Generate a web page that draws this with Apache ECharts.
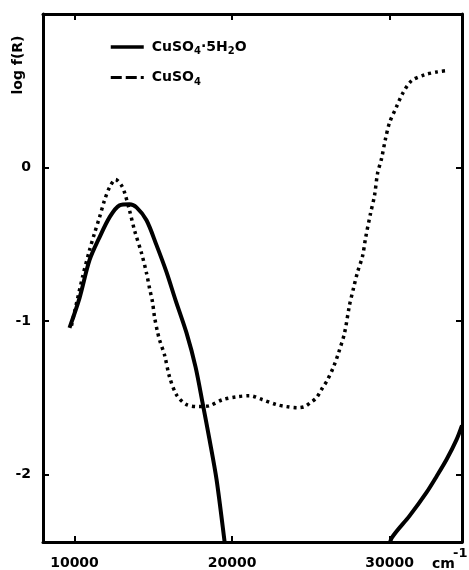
<!DOCTYPE html>
<html><head><meta charset="utf-8">
<script src="https://cdn.jsdelivr.net/npm/echarts@6/dist/echarts.min.js"></script>
<style>html,body{margin:0;padding:0;background:#fff}#c{width:469px;height:570px}</style>
</head><body><div id="c"></div><script>
// ---- data (wavenumber cm^-1, log f(R)) ----
const xTicks = [10000, 20000, 30000];
const yTicks = [0, -1, -2];

const hydrateName = 'CuSO₄·5H₂O';
const anhydName = 'CuSO₄';

// CuSO4·5H2O, low-energy band
const hydrateX1 = [9683, 10317, 10952, 11587, 12222, 12857, 13492, 13937, 14571, 15206, 15841, 16413, 17111, 17683, 18127, 18571, 19016, 19524, 19650];
const hydrateY1 = [-1.045, -0.851, -0.604, -0.455, -0.325, -0.247, -0.240, -0.260, -0.344, -0.506, -0.682, -0.864, -1.078, -1.299, -1.532, -1.773, -2.032, -2.435, -2.55];
// CuSO4·5H2O, UV edge
const hydrateX2 = [29950, 30127, 31270, 32350, 32984, 33619, 34254, 34600];
const hydrateY2 = [-2.50, -2.416, -2.270, -2.117, -2.013, -1.903, -1.773, -1.680];

// CuSO4 (anhydrous)
const anhydX = [9810, 10508, 10952, 11270, 11587, 11905, 12222, 12603, 12984, 13175, 13492, 13810, 14254, 14571, 14762, 14952, 15079, 15270, 15397, 15714, 16032, 16476, 17111, 17937, 18571, 19397, 20286, 21111, 21937, 22825, 23460, 24159, 24603, 24984, 25365, 25746, 26063, 26444, 26762, 27143, 27460, 27714, 27968, 28286, 28476, 28794, 29048, 29238, 29492, 29746, 30000, 30444, 30825, 31397, 32222, 33048, 33556];
const anhydY = [-1.03, -0.714, -0.539, -0.429, -0.325, -0.214, -0.130, -0.078, -0.117, -0.162, -0.279, -0.409, -0.558, -0.688, -0.786, -0.877, -0.974, -1.071, -1.123, -1.221, -1.364, -1.481, -1.545, -1.558, -1.552, -1.513, -1.494, -1.487, -1.513, -1.545, -1.558, -1.565, -1.558, -1.532, -1.500, -1.435, -1.383, -1.299, -1.208, -1.078, -0.896, -0.786, -0.682, -0.578, -0.461, -0.299, -0.182, -0.039, 0.058, 0.188, 0.292, 0.396, 0.481, 0.565, 0.604, 0.623, 0.630];

const X_MIN = 8000, X_MAX = 34600, Y_MIN = -2.44, Y_MAX = 1.0;

const zip = (xs, ys) => xs.map((x, i) => [x, ys[i]]);
const FONT = 'DejaVu Sans';

const chart = echarts.init(document.getElementById('c'), null, {renderer: 'canvas'});

function axisCommon(showLabel, isX) {
  return {
    type: 'value',
    min: isX ? X_MIN : Y_MIN,
    max: isX ? X_MAX : Y_MAX,
    axisLine: {show: true, onZero: false, lineStyle: {color: '#000', width: 3}},
    axisTick: {show: true, inside: true, length: 6, lineStyle: {color: '#000', width: 2}, customValues: isX ? xTicks : yTicks},
    axisLabel: {show: showLabel, customValues: isX ? xTicks : yTicks, formatter: v => String(v),
      color: '#000', fontFamily: FONT, fontWeight: 'bold', fontSize: 14, margin: isX ? 14 : 12},
    splitLine: {show: false}
  };
}

const sub = {fontSize: 10, fontWeight: 'bold', fontFamily: FONT, color: '#000', padding: [9, 0, 0, 0]};
const main = {fontSize: 14, fontWeight: 'bold', fontFamily: FONT, color: '#000'};

chart.setOption({
  animation: false,
  backgroundColor: '#fff',
  grid: {left: 43, right: 7, top: 14, bottom: 28},
  xAxis: [
    Object.assign(axisCommon(true, true), {position: 'bottom'}),
    Object.assign(axisCommon(false, true), {position: 'top'})
  ],
  yAxis: [
    Object.assign(axisCommon(true, false), {position: 'left'}),
    Object.assign(axisCommon(false, false), {position: 'right'})
  ],
  legend: {
    orient: 'vertical', left: 104, top: 35, itemWidth: 33, itemHeight: 14, itemGap: 14,
    itemStyle: {opacity: 0},
    data: [
      {name: hydrateName, lineStyle: {width: 3.5, type: 'solid'}},
      {name: anhydName, lineStyle: {width: 3, type: [11, 4]}}
    ],
    formatter: name => name === hydrateName ? '{m|CuSO}{s|4}{m|·5H}{s|2}{m|O}' : '{m|CuSO}{s|4}',
    textStyle: {padding: [0, 0, 0, 3], rich: {m: main, s: sub}}
  },
  graphic: [
    {type: 'text', x: 18, y: 65, rotation: Math.PI / 2,
      style: {text: 'log f(R)', fill: '#000', font: 'bold 14px "DejaVu Sans"', align: 'center', verticalAlign: 'middle'}},
    {type: 'text', x: 432, y: 564,
      style: {text: 'cm', fill: '#000', font: 'bold 14px "DejaVu Sans"', align: 'left', verticalAlign: 'middle'}},
    {type: 'text', x: 453, y: 554,
      style: {text: '-1', fill: '#000', font: 'bold 13px "DejaVu Sans"', align: 'left', verticalAlign: 'middle'}}
  ],
  series: [
    {name: hydrateName, type: 'line', data: zip(hydrateX1, hydrateY1), showSymbol: false, symbol: 'none', smooth: 0.3, clip: true,
      lineStyle: {color: '#000', width: 4}, itemStyle: {color: '#000'}},
    {name: hydrateName, type: 'line', data: zip(hydrateX2, hydrateY2), showSymbol: false, symbol: 'none', smooth: 0.3, clip: true,
      lineStyle: {color: '#000', width: 4}, itemStyle: {color: '#000'}},
    {name: anhydName, type: 'line', data: zip(anhydX, anhydY), showSymbol: false, symbol: 'none', smooth: 0.3, clip: true,
      lineStyle: {color: '#000', width: 3.5, type: [3, 4]}, itemStyle: {color: '#000'}}
  ]
});
</script></body></html>
